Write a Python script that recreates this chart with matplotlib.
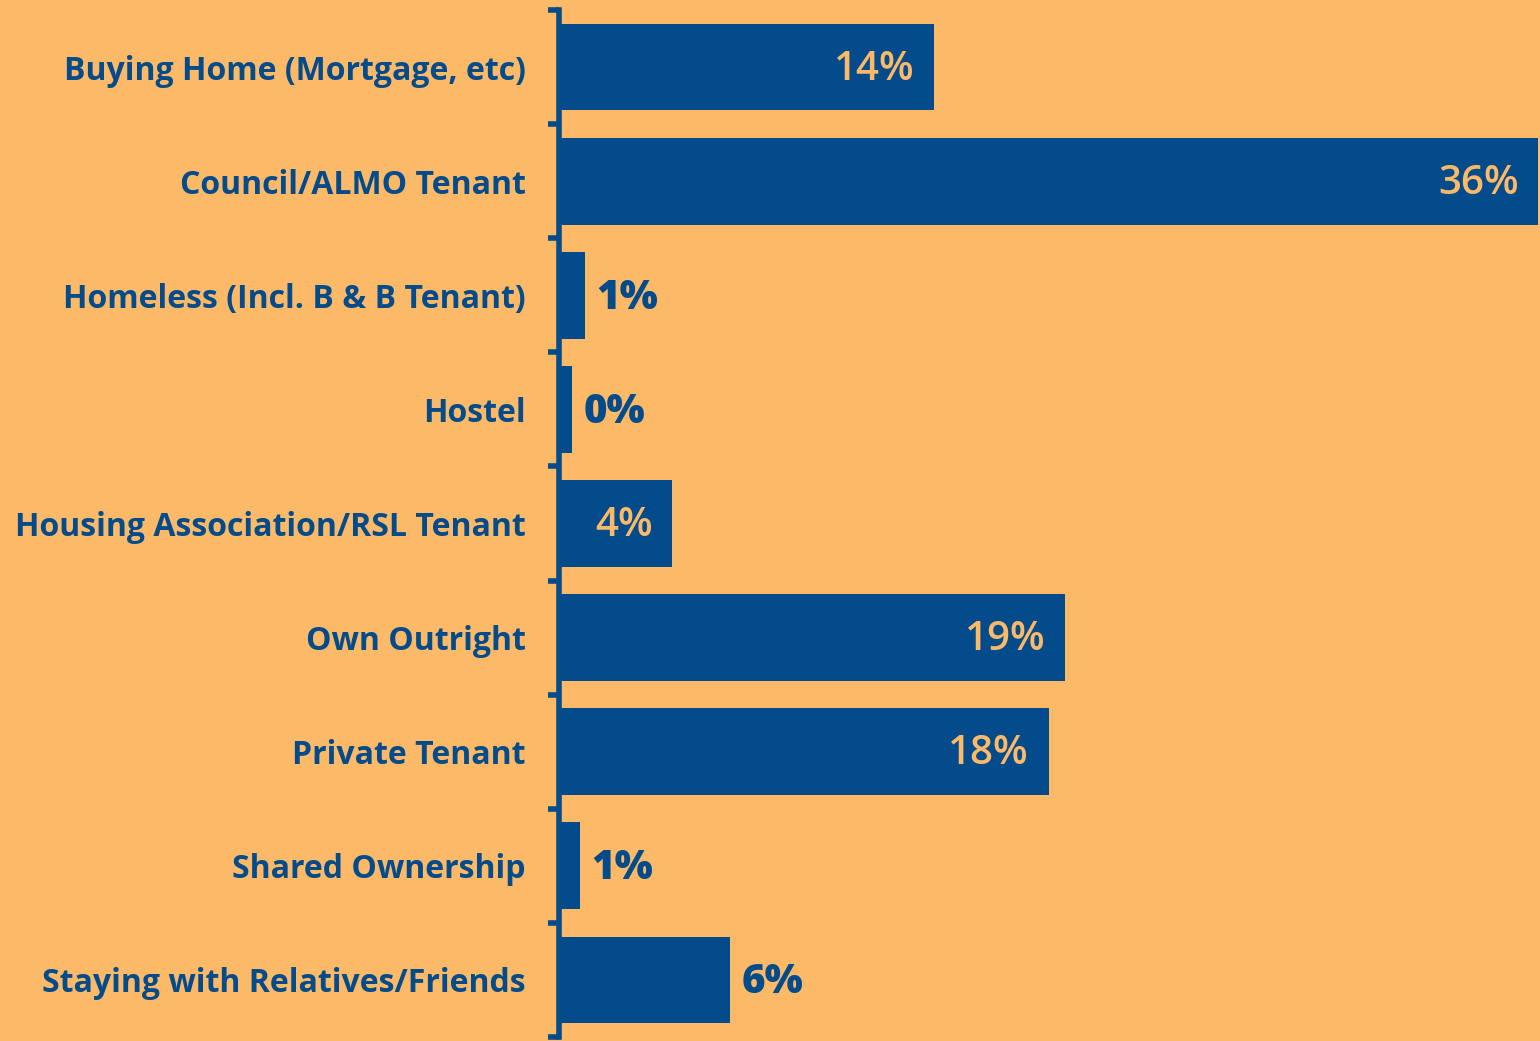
import matplotlib.pyplot as plt

categories = [
    "Buying Home (Mortgage, etc)",
    "Council/ALMO Tenant",
    "Homeless (Incl. B & B Tenant)",
    "Hostel",
    "Housing Association/RSL Tenant",
    "Own Outright",
    "Private Tenant",
    "Shared Ownership",
    "Staying with Relatives/Friends",
]
values = [13.8, 36.0, 0.95, 0.48, 4.15, 18.6, 18.0, 0.77, 6.3]
labels = ["14%", "36%", "1%", "0%", "4%", "19%", "18%", "1%", "6%"]
inside = [True, True, False, False, True, True, True, False, False]

bg = "#FCBA69"
navy = "#034B8A"

plt.rcParams['font.family'] = ['Open Sans', 'DejaVu Sans']

fig = plt.figure(figsize=(15.4, 10.41), dpi=100, facecolor=bg)
ax = fig.add_axes([559 / 1540, 4 / 1041, 979 / 1540, 1027 / 1041])
ax.set_facecolor(bg)

y = list(range(len(categories)))
ax.barh(y, values, height=0.76, color=navy)
ax.set_xlim(0, 36.0)
ax.set_ylim(len(categories) - 0.5, -0.5)

ax.set_yticks(y)
ax.set_yticklabels(categories, fontsize=23, fontweight='bold', color=navy)
ax.tick_params(axis='y', length=0, pad=24)
# ticks between categories
ax.set_yticks([i - 0.5 for i in range(len(categories) + 1)], minor=True)
ax.tick_params(axis='y', which='minor', length=8, width=4, color=navy)
ax.set_xticks([])

for s in ['top', 'right', 'bottom']:
    ax.spines[s].set_visible(False)
ax.spines['left'].set_color(navy)
ax.spines['left'].set_linewidth(4)

for i, (v, lab, ins) in enumerate(zip(values, labels, inside)):
    if ins:
        ax.annotate(lab, (v, i), xytext=(-14, -2), textcoords='offset points',
                    ha='right', va='center', fontsize=29, fontweight='semibold', color=bg)
    else:
        ax.annotate(lab, (v, i), xytext=(8, -2), textcoords='offset points',
                    ha='left', va='center', fontsize=29, fontweight='heavy', color=navy)

fig.savefig("out.png", dpi=100, facecolor=bg)
